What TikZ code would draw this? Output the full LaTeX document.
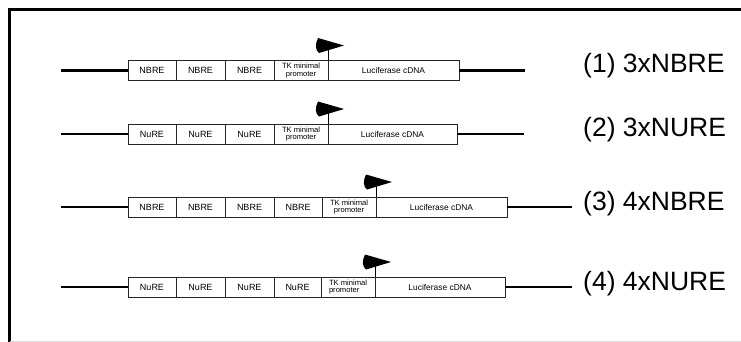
\documentclass[tikz,border=0pt]{standalone}
\usepackage{fontspec}
\setmainfont{Liberation Sans}
\usepackage{tikz}
\usetikzlibrary{positioning}
\tikzset{
  elembox/.style={draw=black!85, line width=0.8pt, fill=white, minimum height=20pt, inner sep=0pt, outer sep=0pt, anchor=west, font=\fontsize{9}{10}\selectfont},
  tkbox/.style={elembox, minimum width=54pt, align=center, font=\fontsize{7.6}{7.8}\selectfont},
  lucbox/.style={elembox, minimum width=131pt, font=\fontsize{8.4}{9}\selectfont},
  backbone/.style={line width=2.6pt},
  construct/.style={anchor=west, inner sep=0pt, font=\fontsize{26.5}{29}\selectfont},
  frameline/.style={line width=3pt, line join=miter}
}
% promoter arrow on top of a box corner
\newcommand{\promflag}[1]{%
  \draw[line width=0.9pt] (#1.north east) -- ++(0,-15) coordinate (#1flag);
  \fill (#1flag) ++(-10,-7.5) -- ++(26,7.5) -- ++(-25,7.5) .. controls ++(-4,-3) and ++(-3,6) .. cycle;
}

\begin{document}
\begin{tikzpicture}[x=1pt, y=-1pt]
  \useasboundingbox (0,0) rectangle (741,342);
  \draw[frameline] (741,10) -- (9,10) -- (9,342);
  \draw[black!15, line width=1pt] (10,341) -- (741,341);

  % (1) 3xNBRE
  \coordinate (aL) at (61,70.5);
  \coordinate (aR) at (525,70.5);
  \node[elembox, minimum width=48pt] (a1) at (128,70.5) {NBRE};
  \node[elembox, minimum width=49pt, right=0pt of a1] (a2) {NBRE};
  \node[elembox, minimum width=49pt, right=0pt of a2] (a3) {NBRE};
  \node[tkbox, right=0pt of a3] (atk) {TK minimal\\promoter};
  \node[lucbox, right=0pt of atk] (aluc) {Luciferase cDNA};
  \node[construct] (alab) at (583,66) {(1) 3xNBRE};
  \draw[backbone] (aL) -- (a1.west);
  \draw[backbone] (aluc.east) -- (aR);
  \promflag{atk}

  % (2) 3xNURE
  \coordinate (bL) at (61,134);
  \coordinate (bR) at (524,134);
  \node[elembox, minimum width=48pt] (b1) at (128,134) {NuRE};
  \node[elembox, minimum width=49pt, right=0pt of b1] (b2) {NuRE};
  \node[elembox, minimum width=49pt, right=0pt of b2] (b3) {NuRE};
  \node[tkbox, right=0pt of b3] (btk) {TK minimal\\promoter};
  \node[lucbox, minimum width=129pt, right=0pt of btk] (bluc) {Luciferase cDNA};
  \node[construct] (blab) at (583,130) {(2) 3xNURE};
  \draw[backbone] (bL) -- (b1.west);
  \draw[backbone] (bluc.east) -- (bR);
  \promflag{btk}

  % (3) 4xNBRE
  \coordinate (cL) at (61,207);
  \coordinate (cR) at (572,207);
  \node[elembox, minimum width=48pt] (c1) at (128,207) {NBRE};
  \node[elembox, minimum width=49pt, right=0pt of c1] (c2) {NBRE};
  \node[elembox, minimum width=49pt, right=0pt of c2] (c3) {NBRE};
  \node[elembox, minimum width=48pt, right=0pt of c3] (c4) {NBRE};
  \node[tkbox, right=0pt of c4] (ctk) {TK minimal\\promoter};
  \node[lucbox, right=0pt of ctk] (cluc) {Luciferase cDNA};
  \node[construct] (clab) at (583,204) {(3) 4xNBRE};
  \draw[backbone] (cL) -- (c1.west);
  \draw[backbone] (cluc.east) -- (cR);
  \promflag{ctk}

  % (4) 4xNURE
  \coordinate (dL) at (61,287);
  \coordinate (dR) at (572,287);
  \node[elembox, minimum width=48pt] (d1) at (128,287) {NuRE};
  \node[elembox, minimum width=49pt, right=0pt of d1] (d2) {NuRE};
  \node[elembox, minimum width=49pt, right=0pt of d2] (d3) {NuRE};
  \node[elembox, minimum width=47pt, right=0pt of d3] (d4) {NuRE};
  \node[tkbox, align=left, right=0pt of d4] (dtk) {TK minimal\\promoter};
  \node[lucbox, minimum width=130pt, right=0pt of dtk] (dluc) {Luciferase cDNA};
  \node[construct] (dlab) at (583,284) {(4) 4xNURE};
  \draw[backbone] (dL) -- (d1.west);
  \draw[backbone] (dluc.east) -- (dR);
  \promflag{dtk}
\end{tikzpicture}
\end{document}
